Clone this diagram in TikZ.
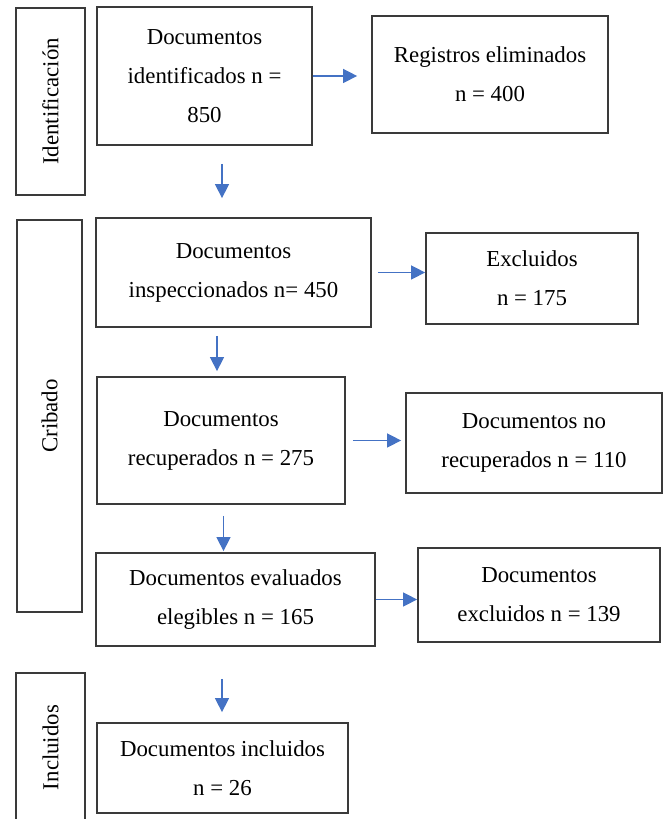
\documentclass[tikz,border=0pt]{standalone}
\usepackage{fontspec}
\setmainfont{Liberation Serif}
\usetikzlibrary{arrows.meta}
\definecolor{flowblue}{HTML}{4472C4}
\definecolor{boxgray}{HTML}{3A3A3A}

\begin{document}
\begin{tikzpicture}[stage/.style={rectangle, draw=boxgray, line width=1pt, align=center, inner sep=0pt, font=\fontsize{13}{22.2}\selectfont}, phase/.style={stage, rotate=90}, arrow/.style={draw=flowblue, line width=0.8pt, -{Triangle[length=0.28cm, width=0.28cm]}}]
\useasboundingbox (0,0) rectangle (13.34,16.38);
\node [phase, minimum width=3.74cm, minimum height=1.38cm] (ident) at (1.01,14.35) {Identificación};
\node [phase, minimum width=7.84cm, minimum height=1.30cm] (crib) at (0.99,8.06) {Cribado};
\node [phase, minimum width=2.98cm, minimum height=1.38cm] (incl) at (1.01,1.43) {Incluidos};
\node [stage, minimum width=4.30cm, minimum height=2.76cm] (identif) at (4.09,14.86) {Documentos\\identificados n =\\850};
\node [stage, minimum width=4.72cm, minimum height=2.34cm] (elim) at (9.80,14.89) {Registros eliminados\\n = 400};
\node [stage, minimum width=5.50cm, minimum height=2.18cm] (insp) at (4.67,10.93) {Documentos\\inspeccionados n= 450};
\node [stage, minimum width=4.24cm, minimum height=1.82cm] (excl) at (10.64,10.81) {Excluidos\\n = 175};
\node [stage, minimum width=4.96cm, minimum height=2.54cm] (recup) at (4.42,7.57) {Documentos\\recuperados n = 275};
\node [stage, minimum width=5.12cm, minimum height=2.00cm] (norecup) at (10.68,7.52) {Documentos no\\recuperados n = 110};
\node [stage, minimum width=5.58cm, minimum height=1.86cm] (eval) at (4.71,4.39) {Documentos evaluados\\elegibles n = 165};
\node [stage, minimum width=4.84cm, minimum height=1.88cm] (exclev) at (10.78,4.48) {Documentos\\excluidos n = 139};
\node [stage, minimum width=5.02cm, minimum height=1.80cm] (inclu) at (4.45,1.02) {Documentos incluidos\\n = 26};
\coordinate (col1) at (4.44,0);
\coordinate (col2) at (4.34,0);
\coordinate (col3) at (4.47,0);
\draw [arrow, shorten >=0.28cm] (identif.east) -- (identif.east -| elim.west);
\draw [arrow, shorten <=0.12cm] (insp.east) -- (insp.east -| excl.west);
\draw [arrow, shorten <=0.14cm, shorten >=0.08cm] (recup.east) -- (recup.east -| norecup.west);
\draw [arrow] (eval.east) -- (eval.east -| exclev.west);
\draw [arrow, shorten <=0.36cm, shorten >=0.38cm] (col1 |- identif.south) -- (col1 |- insp.north);
\draw [arrow, shorten <=0.16cm, shorten >=0.10cm] (col2 |- insp.south) -- (col2 |- recup.north);
\draw [arrow, shorten <=0.22cm, shorten >=0.02cm] (col3 |- recup.south) -- (col3 |- eval.north);
\draw [arrow, shorten <=0.64cm, shorten >=0.20cm] (col1 |- eval.south) -- (col1 |- inclu.north);
\end{tikzpicture}
\end{document}
